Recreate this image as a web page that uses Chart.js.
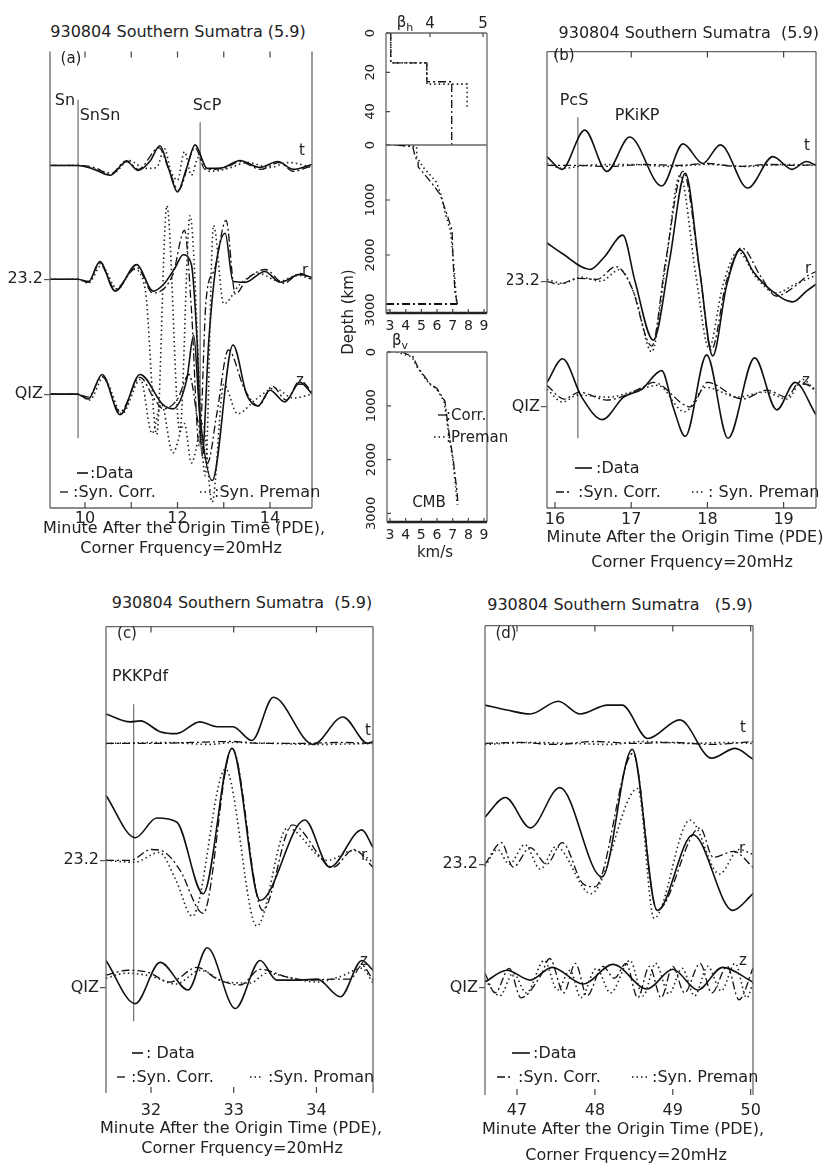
<!DOCTYPE html>
<html>
<head>
<meta charset="utf-8">
<script src="https://cdn.jsdelivr.net/npm/chart.js@4.4.0/dist/chart.umd.min.js"></script>
<style>
  body { margin: 0; background: #fff; }
  #page { position: relative; width: 828px; height: 1164px; overflow: hidden; font-family: "DejaVu Sans", sans-serif; color: #222; }
  canvas { position: absolute; }
  .t { position: absolute; white-space: nowrap; font-size: 16px; line-height: 1; }
  sub { font-size: 11px; }
</style>
</head>
<body>
<div id="page"></div>
<script>
// ---- waveforms: [minute, amplitude] ----
// (a) 20 mHz, Sn window
const aTData = [[9.24,0],[9.85,0],[10.2,-4],[10.54,-10],[10.9,4],[11.15,-5],[11.4,4],[11.62,20],[11.8,-2],[12.0,-27],[12.2,-2],[12.38,21],[12.64,-3],[13.0,-2],[13.35,5],[13.78,-2],[14.17,4],[14.5,-4],[14.91,1]];
const aTCorr = [[9.24,0],[9.85,0],[10.2,-2],[10.54,-9],[10.9,5],[11.15,-4],[11.6,18],[11.82,-5],[12.02,-25],[12.38,18],[12.6,-4],[13.0,-3],[13.35,4],[13.8,-4],[14.2,3],[14.5,-6],[14.91,0]];
const aTPrem = [[9.24,0],[9.85,0],[10.3,-5],[10.6,-8],[10.95,5],[11.3,-3],[11.55,-2],[11.72,17],[11.85,-5],[12.0,-15],[12.15,14],[12.3,-10],[12.45,8],[12.7,-6],[13.1,-3],[13.5,3],[14.0,-2],[14.4,3],[14.91,-2]];
const aRData = [[9.24,0],[9.85,0],[10.07,-3],[10.32,18],[10.65,-12],[11.12,15],[11.47,-12],[11.7,-5],[11.95,12],[12.12,25],[12.3,15],[12.42,-60],[12.53,-180],[12.68,-60],[12.85,20],[13.03,47],[13.2,-2],[13.46,-3],[13.89,8],[14.22,-3],[14.65,5],[14.91,2]];
const aRCorr = [[9.24,0],[9.85,0],[10.07,-2],[10.32,16],[10.65,-10],[11.12,12],[11.47,-14],[11.9,5],[12.15,50],[12.3,-30],[12.47,-170],[12.62,-20],[12.8,10],[13.05,60],[13.25,-15],[13.5,0],[13.9,10],[14.3,-4],[14.65,6],[14.91,0]];
const aRPrem = [[9.24,0],[9.85,0],[10.07,-4],[10.35,14],[10.7,-10],[11.05,10],[11.3,-10],[11.55,-158],[11.77,75],[12.05,-155],[12.27,65],[12.6,-200],[12.78,55],[13.0,-25],[13.35,-5],[13.75,6],[14.2,-2],[14.6,4],[14.91,0]];
const aZData = [[9.24,0],[9.83,0],[10.07,-5],[10.37,20],[10.76,-21],[11.19,20],[11.69,-11],[11.9,-15],[12.2,15],[12.35,60],[12.48,-20],[12.75,-88],[13.2,50],[13.5,-1],[13.74,-12],[14.0,4],[14.32,-8],[14.65,12],[14.91,0]];
const aZCorr = [[9.24,0],[9.83,0],[10.07,-3],[10.37,18],[10.76,-18],[11.19,17],[11.5,-5],[11.7,-15],[12.0,-5],[12.25,20],[12.45,-30],[12.65,-70],[12.85,-20],[13.1,45],[13.45,5],[13.75,-12],[14.05,8],[14.35,-6],[14.65,14],[14.91,2]];
const aZPrem = [[9.24,0],[9.83,0],[10.1,-6],[10.4,17],[10.8,-20],[11.2,15],[11.45,-40],[11.65,-10],[11.9,-60],[12.15,-30],[12.3,-70],[12.55,-30],[12.75,-110],[13.0,10],[13.3,-20],[13.7,-5],[14.1,6],[14.5,-4],[14.91,0]];
const aPhaseNames = ['SnSn', 'ScP'];
const aPhaseTimes = [9.85, 12.49];

// (b) PcS / PKiKP window
const bTData = [[15.895,9],[16.09,-4],[16.39,36],[16.68,-6],[16.98,29],[17.4,-21],[17.68,22],[17.94,2],[18.17,21],[18.53,-23],[18.86,9],[19.11,-4],[19.3,4],[19.425,0]];
const bTCorr = [[15.895,0],[16.3,0],[16.7,-1],[17.2,1],[17.6,0],[18.0,2],[18.4,-1],[18.8,1],[19.2,0],[19.425,1]];
const bTPrem = [[15.895,2],[16.1,-3],[16.4,0],[17.0,1],[17.5,-1],[18.0,1],[18.5,-1],[19.0,1],[19.425,0]];
const bRData = [[15.895,39],[16.1,28],[16.46,12],[16.65,25],[16.89,47],[17.05,0],[17.29,-60],[17.5,20],[17.71,110],[17.9,10],[18.07,-76],[18.25,-5],[18.43,32],[18.6,10],[18.85,-10],[19.12,-21],[19.3,-10],[19.425,-3]];
const bRCorr = [[15.895,0],[16.05,-3],[16.3,3],[16.55,2],[16.8,15],[17.0,-5],[17.27,-66],[17.45,20],[17.68,112],[17.9,10],[18.05,-70],[18.25,0],[18.45,34],[18.7,5],[18.9,-15],[19.15,-5],[19.3,5],[19.425,10]];
const bRPrem = [[15.895,2],[16.1,-2],[16.35,4],[16.6,0],[16.85,12],[17.05,-15],[17.27,-72],[17.45,15],[17.64,108],[17.85,5],[18.02,-68],[18.2,-5],[18.4,30],[18.65,3],[18.9,-12],[19.15,-3],[19.425,6]];
const bZData = [[15.895,25],[16.1,49],[16.35,10],[16.62,-13],[16.9,10],[17.14,18],[17.4,37],[17.55,0],[17.71,-30],[17.99,53],[18.27,-32],[18.62,50],[18.91,-3],[19.15,25],[19.425,-8]];
const bZCorr = [[15.895,22],[16.12,8],[16.32,15],[16.68,7],[17.15,20],[17.29,25],[17.78,0],[18.0,25],[18.46,8],[18.78,17],[19.04,10],[19.21,25],[19.425,18]];
const bZPrem = [[15.895,18],[16.1,5],[16.3,12],[16.7,10],[17.0,15],[17.35,22],[17.7,-5],[17.98,20],[18.4,10],[18.75,15],[19.05,8],[19.25,28],[19.425,15]];
const bPhaseNames = ['PcS'];
const bPhaseTimes = [16.30];

// (c) PKKPdf window
const cTData = [[31.456,30],[31.75,22],[31.87,23],[32.11,12],[32.31,10],[32.59,22],[32.8,17],[32.99,17],[33.22,3],[33.48,47],[33.96,-1],[34.32,27],[34.62,0],[34.684,2]];
const cTCorr = [[31.456,0],[32.0,0],[32.5,1],[32.99,2],[33.3,0],[33.8,0],[34.3,1],[34.684,0]];
const cTPrem = [[31.456,0],[32.2,1],[32.7,-1],[33.0,1],[33.5,0],[34.0,-1],[34.684,0]];
const cRData = [[31.456,66],[31.81,23],[32.07,43],[32.31,39],[32.63,-34],[32.98,114],[33.32,-41],[33.86,41],[34.16,-7],[34.55,31],[34.684,13]];
const cRCorr = [[31.456,0],[31.75,0],[32.0,11],[32.15,9],[32.35,-10],[32.63,-54],[32.98,114],[33.35,-51],[33.71,36],[34.2,-7],[34.45,11],[34.684,-7]];
const cRPrem = [[31.456,0],[31.8,-2],[32.1,8],[32.3,-20],[32.5,-57],[32.9,93],[33.28,-67],[33.65,33],[34.13,0],[34.45,10],[34.684,-2]];
const cZData = [[31.456,28],[31.81,-16],[32.11,26],[32.45,-2],[32.68,41],[33.02,-21],[33.32,28],[33.52,8],[33.8,8],[34.01,9],[34.29,-9],[34.55,28],[34.684,18]];
const cZCorr = [[31.456,13],[31.72,18],[31.96,16],[32.23,6],[32.56,21],[32.8,9],[33.08,3],[33.32,19],[33.65,11],[33.93,8],[34.2,9],[34.41,9],[34.55,23],[34.684,8]];
const cZPrem = [[31.456,10],[31.7,15],[32.0,12],[32.3,4],[32.6,18],[32.9,6],[33.2,5],[33.4,15],[33.7,10],[34.0,6],[34.3,12],[34.55,20],[34.684,5]];
const cPhaseNames = ['PKKPdf'];
const cPhaseTimes = [31.79];

// (d) late window
const dTData = [[46.589,39],[46.87,34],[47.17,30],[47.53,43],[47.81,30],[48.16,39],[48.35,39],[48.68,5],[49.09,24],[49.5,-15],[49.8,-5],[50.03,-16]];
const dTCorr = [[46.589,0],[47.0,1],[47.5,-1],[48.0,2],[48.5,0],[49.0,1],[49.5,-1],[50.03,2]];
const dTPrem = [[46.589,-1],[47.2,1],[47.7,0],[48.2,-1],[48.6,2],[49.2,0],[49.7,1],[50.03,0]];
const dRData = [[46.589,48],[46.85,68],[47.17,37],[47.55,78],[48.09,-13],[48.48,117],[48.8,-47],[49.26,30],[49.77,-47],[50.03,-30]];
const dRCorr = [[46.589,0],[46.8,22],[46.95,-3],[47.17,17],[47.38,0],[47.58,22],[47.85,-20],[48.0,-23],[48.49,113],[48.8,-47],[49.35,37],[49.52,7],[49.78,13],[50.03,-3]];
const dRPrem = [[46.589,-2],[46.75,15],[46.9,0],[47.1,20],[47.3,-5],[47.5,18],[47.95,-30],[48.55,77],[48.76,-55],[49.22,45],[49.6,-10],[49.85,15],[50.03,10]];
const dZData = [[46.589,6],[46.87,18],[47.17,8],[47.45,21],[47.85,4],[48.23,24],[48.67,-1],[49.0,19],[49.32,-2],[49.64,21],[50.03,6]];
const dZCorr = [[46.589,15],[46.72,-5],[46.9,20],[47.05,-10],[47.3,12],[47.42,30],[47.6,-5],[47.75,25],[47.9,-8],[48.1,22],[48.25,10],[48.4,25],[48.55,-10],[48.7,22],[48.85,-10],[49.0,22],[49.15,-5],[49.35,25],[49.5,-5],[49.7,22],[49.85,-12],[50.03,20]];
const dZPrem = [[46.589,8],[46.78,-8],[46.95,15],[47.12,-5],[47.35,28],[47.52,-2],[47.68,18],[47.82,-10],[48.02,20],[48.2,-5],[48.45,28],[48.62,-8],[48.78,25],[48.95,-6],[49.12,20],[49.28,-8],[49.45,22],[49.62,-3],[49.8,25],[49.95,-10],[50.03,5]];

// ---- velocity models: [km/s, depth km] ----
const hCorrTop = [[3.26,0],[3.26,15.2],[3.94,15.2],[3.94,24.8],[4.41,24.8],[4.41,57]];
const hPremTop = [[3.26,0],[3.26,15.2],[3.94,15.2],[3.94,26],[4.70,26],[4.70,37.5]];
const hCorrDeep = [[3.45,0],[4.45,30],[4.6,220],[4.79,300],[4.8,400],[5.6,670],[6.2,900],[6.64,1270],[6.96,1550],[7.02,2100],[7.15,2690],[7.3,2890]];
const hPremDeep = [[3.3,0],[4.7,30],[4.7,220],[5.1,400],[5.95,670],[6.25,900],[6.55,1270],[6.85,1550],[7.05,2100],[7.2,2690],[7.26,2890]];
const hCmb = [[2.74,2890],[7.3,2890]];
const vCorr = [[3.77,0],[4.47,90],[4.79,290],[5.55,590],[6.0,680],[6.51,915],[6.64,1220],[6.83,1630],[7.02,1970],[7.28,2600],[7.34,2835]];
const vPrem = [[3.4,0],[4.4,90],[4.75,290],[5.5,590],[5.95,680],[6.45,915],[6.6,1220],[6.8,1630],[7.0,1970],[7.22,2600],[7.28,2835]];

const depthTicksTop = [0, 20, 40];
const depthTicksDeep = [0, 1000, 2000, 3000];
const compLabels = ['23.2', 'QIZ'];
const compLetters = ['t', 'r', 'z'];

// ---- drawing ----
const FAM = '"DejaVu Sans", "Liberation Sans", sans-serif';
Chart.defaults.font.family = FAM;
Chart.defaults.color = '#222';
const page = document.getElementById('page');

const STY = {
  data: { borderColor: '#111', borderWidth: 1.6, borderDash: [] },
  corr: { borderColor: '#111', borderWidth: 1.3, borderDash: [8, 3, 2, 3] },
  prem: { borderColor: '#222', borderWidth: 1.6, borderDash: [1.5, 3] }
};

function addText(s, x, y, o = {}) {
  const d = document.createElement('div');
  d.className = 't';
  d.innerHTML = s;
  d.style.left = x + 'px';
  d.style.top = y + 'px';
  const ax = o.align === 'left' ? '0' : o.align === 'right' ? '-100%' : '-50%';
  d.style.transform = `translate(${ax},-50%)` + (o.rot ? ` rotate(${o.rot}deg)` : '');
  if (o.size) d.style.fontSize = o.size + 'px';
  page.appendChild(d);
}

function addCanvas(box, m) {
  const cv = document.createElement('canvas');
  const W = box.w + m.l + m.r, H = box.h + m.t + m.b;
  cv.width = W; cv.height = H;
  cv.style.left = (box.x - m.l) + 'px';
  cv.style.top = (box.y - m.t) + 'px';
  cv.style.width = W + 'px'; cv.style.height = H + 'px';
  page.appendChild(cv);
  return cv;
}

// box lines, inward tick marks, legend keys, rotated depth labels
const framePlugin = {
  id: 'frame',
  afterDraw(chart, args, o) {
    const { ctx, chartArea: a } = chart;
    const xs = chart.scales.x, ys = chart.scales.y;
    ctx.save();
    const side = (k, x1, y1, x2, y2) => {
      if (!o.sides.includes(k)) return;
      const thick = (o.thick || '').includes(k);
      ctx.lineWidth = thick ? 2.4 : 1.3;
      ctx.strokeStyle = thick ? '#222' : '#666';
      ctx.beginPath(); ctx.moveTo(x1, y1); ctx.lineTo(x2, y2); ctx.stroke();
    };
    side('t', a.left, a.top, a.right, a.top);
    side('r', a.right, a.top, a.right, a.bottom);
    side('b', a.left, a.bottom, a.right, a.bottom);
    side('l', a.left, a.top, a.left, a.bottom);

    const L = o.tickLen || 6;
    ctx.lineWidth = 1.2;
    ctx.strokeStyle = '#444';
    ctx.beginPath();
    xs.ticks.forEach(t => {
      const px = xs.getPixelForValue(t.value);
      if (o.ticks.includes('b')) { ctx.moveTo(px, a.bottom); ctx.lineTo(px, a.bottom - L); }
      if (o.ticks.includes('t')) { ctx.moveTo(px, a.top); ctx.lineTo(px, a.top + L); }
    });
    if (o.ticks.includes('l')) {
      ys.ticks.forEach(t => {
        const py = ys.getPixelForValue(t.value);
        ctx.moveTo(a.left, py); ctx.lineTo(a.left + L, py);
      });
    }
    ctx.stroke();

    (o.samples || []).forEach(s => {
      const st = STY[s.kind];
      ctx.setLineDash(st.borderDash);
      ctx.lineWidth = st.borderWidth;
      ctx.strokeStyle = '#111';
      ctx.beginPath();
      ctx.moveTo(s.x1 - o.ox, s.y - o.oy);
      ctx.lineTo(s.x2 - o.ox, s.y - o.oy);
      ctx.stroke();
    });
    ctx.setLineDash([]);

    ctx.fillStyle = '#222';
    ctx.textAlign = 'center';
    ctx.textBaseline = 'middle';
    if (o.topLabels) {
      ctx.font = '15px ' + FAM;
      xs.ticks.forEach(t => ctx.fillText(String(t.value), xs.getPixelForValue(t.value), a.top - 9));
    }
    if (o.rotY) {
      ctx.font = '13px ' + FAM;
      ys.ticks.forEach(t => {
        const py = ys.getPixelForValue(t.value);
        ctx.save();
        ctx.translate(a.left - o.rotY, py);
        ctx.rotate(-Math.PI / 2);
        ctx.fillText(String(t.value), 0, 0);
        ctx.restore();
      });
    }
    ctx.restore();
  }
};

function tracePanel(p) {
  const { box, m } = p;
  const cv = addCanvas(box, m);
  const ds = [];
  p.comps.forEach(c => {
    [['prem', c.prem], ['corr', c.corr], ['data', c.data]].forEach(([k, arr]) => {
      ds.push({
        data: arr.map(([x, y]) => ({ x, y: y + c.off })),
        ...STY[k], pointRadius: 0, fill: false, tension: 0.4, cubicInterpolationMode: 'monotone'
      });
    });
  });
  p.phases.forEach(ph => ds.push({
    data: [{ x: ph.x, y: ph.y1 }, { x: ph.x, y: ph.y2 }],
    borderColor: '#777', borderWidth: 1.3, pointRadius: 0, tension: 0
  }));
  new Chart(cv, {
    type: 'line',
    data: { datasets: ds },
    options: {
      responsive: false, animation: false, devicePixelRatio: 1,
      layout: { padding: { top: m.t, right: m.r, bottom: 0, left: 0 } },
      plugins: {
        legend: { display: false }, tooltip: { enabled: false },
        frame: { sides: p.sides, ticks: 'tb', samples: p.samples, ox: box.x - m.l, oy: box.y - m.t }
      },
      scales: {
        x: {
          type: 'linear', position: 'bottom', min: p.xmin, max: p.xmax,
          afterFit: s => { s.height = m.b; },
          border: { display: false }, grid: { display: false },
          ticks: {
            stepSize: 1, includeBounds: false, autoSkip: false, maxRotation: 0, padding: p.tickPad,
            font: { size: 16 }, color: '#222',
            callback: v => (p.labelEvery && v % p.labelEvery) ? '' : v
          }
        },
        y: {
          min: p.ymin, max: p.ymax,
          afterFit: s => { s.width = m.l; },
          afterBuildTicks: s => { s.ticks = p.comps.slice(1).map(c => ({ value: c.off })); },
          border: { display: false },
          grid: { drawOnChartArea: false, drawTicks: true, tickLength: 6, color: '#555', lineWidth: 1.2 },
          ticks: { padding: 1, font: { size: 16 }, color: '#222', callback: (v, i) => compLabels[i] }
        }
      }
    },
    plugins: [framePlugin]
  });
}

function profilePanel(p) {
  const { box, m } = p;
  const cv = addCanvas(box, m);
  const ds = p.lines.map(l => ({
    data: l.arr.map(([x, y]) => ({ x, y })),
    ...STY[l.kind], borderWidth: l.w || STY[l.kind].borderWidth, pointRadius: 0, tension: 0
  }));
  const top = p.xPos === 'top';
  new Chart(cv, {
    type: 'line',
    data: { datasets: ds },
    options: {
      responsive: false, animation: false, devicePixelRatio: 1,
      layout: { padding: { top: top ? 0 : m.t, right: m.r, bottom: top ? m.b : 0, left: 0 } },
      plugins: {
        legend: { display: false }, tooltip: { enabled: false },
        frame: { sides: p.sides, thick: p.thick, ticks: p.ticks, tickLen: 4, rotY: 15, topLabels: top,
                 samples: p.samples, ox: box.x - m.l, oy: box.y - m.t }
      },
      scales: {
        x: {
          type: 'linear', position: p.xPos, min: p.xmin, max: p.xmax,
          afterFit: s => { s.height = top ? m.t : m.b; },
          border: { display: false }, grid: { display: false },
          ticks: { display: !top, stepSize: 1, includeBounds: false, autoSkip: false, maxRotation: 0, padding: -3, font: { size: 14 }, color: '#222' }
        },
        y: {
          reverse: true, min: p.ymin, max: p.ymax,
          afterFit: s => { s.width = m.l; },
          afterBuildTicks: s => { s.ticks = p.yticks.map(v => ({ value: v })); },
          border: { display: false }, grid: { display: false },
          ticks: { display: false }
        }
      }
    },
    plugins: [framePlugin]
  });
}

// ---- panel (a) ----
tracePanel({
  box: { x: 50, y: 43, w: 262, h: 465 }, m: { l: 50, r: 22, t: 2, b: 24 },
  xmin: 9.243, xmax: 14.908, ymin: -349, ymax: 116, sides: 'lrb', labelEvery: 2, tickPad: -7,
  comps: [
    { off: 0, data: aTData, corr: aTCorr, prem: aTPrem },
    { off: -116, data: aRData, corr: aRCorr, prem: aRPrem },
    { off: -233, data: aZData, corr: aZCorr, prem: aZPrem }
  ],
  phases: [{ x: aPhaseTimes[0], y1: 67, y2: -278 }, { x: aPhaseTimes[1], y1: 44, y2: -278 }],
  samples: [{ kind: 'data', x1: 77, x2: 88, y: 473 }, { kind: 'corr', x1: 60, x2: 71, y: 492 }, { kind: 'prem', x1: 200, x2: 212, y: 492 }]
});
// ---- panel (b) ----
tracePanel({
  box: { x: 547, y: 43, w: 269, h: 465 }, m: { l: 40, r: 12, t: 2, b: 24 },
  xmin: 15.895, xmax: 19.425, ymin: -349, ymax: 116, sides: 'tlrb', tickPad: -6,
  comps: [
    { off: 0, data: bTData, corr: bTCorr, prem: bTPrem },
    { off: -118, data: bRData, corr: bRCorr, prem: bRPrem },
    { off: -246, data: bZData, corr: bZCorr, prem: bZPrem }
  ],
  phases: [{ x: bPhaseTimes[0], y1: 49, y2: -278 }],
  samples: [{ kind: 'data', x1: 575, x2: 592, y: 468 }, { kind: 'corr', x1: 556, x2: 570, y: 492 }, { kind: 'prem', x1: 692, x2: 704, y: 492 }]
});
// ---- panel (c) ----
tracePanel({
  box: { x: 106, y: 618, w: 267, h: 475 }, m: { l: 42, r: 16, t: 2, b: 26 },
  xmin: 31.456, xmax: 34.684, ymin: -356, ymax: 119, sides: 'tlr', tickPad: 0,
  comps: [
    { off: 0, data: cTData, corr: cTCorr, prem: cTPrem },
    { off: -119, data: cRData, corr: cRCorr, prem: cRPrem },
    { off: -249, data: cZData, corr: cZCorr, prem: cZPrem }
  ],
  phases: [{ x: cPhaseTimes[0], y1: 40, y2: -283 }],
  samples: [{ kind: 'data', x1: 132, x2: 143, y: 1053 }, { kind: 'corr', x1: 117, x2: 128, y: 1077 }, { kind: 'prem', x1: 250, x2: 263, y: 1077 }]
});
// ---- panel (d) ----
tracePanel({
  box: { x: 485, y: 617, w: 268, h: 478 }, m: { l: 42, r: 18, t: 2, b: 24 },
  xmin: 46.589, xmax: 50.03, ymin: -358, ymax: 120, sides: 'tlr', tickPad: -2,
  comps: [
    { off: 0, data: dTData, corr: dTCorr, prem: dTPrem },
    { off: -123, data: dRData, corr: dRCorr, prem: dRPrem },
    { off: -249, data: dZData, corr: dZCorr, prem: dZPrem }
  ],
  phases: [],
  samples: [{ kind: 'data', x1: 512, x2: 530, y: 1053 }, { kind: 'corr', x1: 497, x2: 510, y: 1077 }, { kind: 'prem', x1: 632, x2: 648, y: 1077 }]
});

// ---- middle: shear velocity models ----
profilePanel({
  box: { x: 386, y: 33, w: 101, h: 112 }, m: { l: 26, r: 3, t: 22, b: 1 },
  xPos: 'top', xmin: 3.17, xmax: 5.075, ymin: 0, ymax: 57, yticks: depthTicksTop,
  sides: 'tlrb', ticks: 'tl',
  lines: [{ arr: hPremTop, kind: 'prem' }, { arr: hCorrTop, kind: 'corr' }]
});
profilePanel({
  box: { x: 386, y: 145, w: 101, h: 168 }, m: { l: 26, r: 3, t: 8, b: 22 },
  xPos: 'bottom', xmin: 2.74, xmax: 9.19, ymin: 0, ymax: 3055, yticks: depthTicksDeep,
  sides: 'lrb', thick: 'b', ticks: 'bl',
  lines: [{ arr: hPremDeep, kind: 'prem' }, { arr: hCorrDeep, kind: 'corr' }, { arr: hCmb, kind: 'corr', w: 2 }]
});
profilePanel({
  box: { x: 387, y: 352, w: 100, h: 170 }, m: { l: 26, r: 3, t: 8, b: 22 },
  xPos: 'bottom', xmin: 2.81, xmax: 9.19, ymin: 0, ymax: 3160, yticks: depthTicksDeep,
  sides: 'tlrb', thick: 'b', ticks: 'bl',
  lines: [{ arr: vPrem, kind: 'prem' }, { arr: vCorr, kind: 'corr' }],
  samples: [{ kind: 'corr', x1: 438, x2: 446, y: 415 }, { kind: 'prem', x1: 434, x2: 446, y: 437 }]
});

// ---- text ----
const title = '930804 Southern Sumatra';
addText(title + ' (5.9)', 178, 32);
addText(title + '&nbsp;&nbsp;(5.9)', 819, 33, { align: 'right' });
addText(title + '&nbsp;&nbsp;(5.9)', 242, 603);
addText(title + '&nbsp;&nbsp;&nbsp;(5.9)', 620, 605);

addText('(a)', 71, 58, { size: 15 });
addText('(b)', 564, 55, { size: 15 });
addText('(c)', 127, 633, { size: 15 });
addText('(d)', 506, 633, { size: 15 });

addText('Sn', 65, 100);
addText(aPhaseNames[0], 100, 115);
addText(aPhaseNames[1], 207, 105);
addText(bPhaseNames[0], 574, 100);
addText('PKiKP', 637, 115);
addText(cPhaseNames[0], 140, 676);

[[302, 150], [305, 270], [300, 380]].forEach(([x, y], i) => addText(compLetters[i], x, y, { size: 15 }));
[[807, 145], [808, 268], [806, 380]].forEach(([x, y], i) => addText(compLetters[i], x, y, { size: 15 }));
[[368, 730], [364, 855], [364, 960]].forEach(([x, y], i) => addText(compLetters[i], x, y, { size: 15 }));
[[743, 727], [742, 848], [743, 960]].forEach(([x, y], i) => addText(compLetters[i], x, y, { size: 15 }));

// legends
addText(':Data', 90, 473, { align: 'left' });
addText(':Syn. Corr.', 73, 492, { align: 'left' });
addText(':Syn. Preman', 214, 492, { align: 'left' });
addText(':Data', 596, 468, { align: 'left' });
addText(':Syn. Corr.', 578, 492, { align: 'left' });
addText(': Syn. Preman', 708, 492, { align: 'left' });
addText(': Data', 146, 1053, { align: 'left' });
addText(':Syn. Corr.', 131, 1077, { align: 'left' });
addText(':Syn. Proman', 268, 1077, { align: 'left' });
addText(':Data', 533, 1053, { align: 'left' });
addText(':Syn. Corr.', 518, 1077, { align: 'left' });
addText(':Syn. Preman', 652, 1077, { align: 'left' });

// axis titles
const xTitle = 'Minute After the Origin Time (PDE)';
const fTitle = 'Corner Frquency=20mHz';
addText(xTitle + ',', 184, 528); addText(fTitle, 181, 548);
addText(xTitle, 685, 537); addText(fTitle, 692, 562);
addText(xTitle + ',', 241, 1128); addText(fTitle, 242, 1148);
addText(xTitle + ',', 623, 1129); addText(fTitle, 626, 1155);

// middle labels
addText('β<sub>h</sub>', 405, 24, { size: 15 });
addText('β<sub>v</sub>', 400, 342, { size: 15 });
addText('Depth (km)', 348, 312, { rot: -90, size: 15 });
addText(':Corr.', 446, 415, { align: 'left', size: 15 });
addText(':Preman', 446, 437, { align: 'left', size: 15 });
addText('CMB', 429, 502, { size: 15 });
addText('km/s', 435, 552, { size: 15 });
</script>
</body>
</html>
